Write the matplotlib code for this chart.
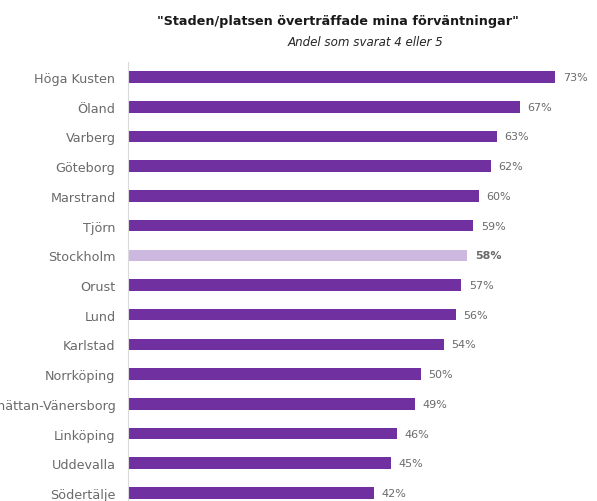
import matplotlib
matplotlib.use("Agg")
import matplotlib.pyplot as plt

categories = ["Höga Kusten", "Öland", "Varberg", "Göteborg", "Marstrand", "Tjörn",
              "Stockholm", "Orust", "Lund", "Karlstad", "Norrköping",
              "Trollhättan-Vänersborg", "Linköping", "Uddevalla", "Södertälje"]
values = [73, 67, 63, 62, 60, 59, 58, 57, 56, 54, 50, 49, 46, 45, 42]
highlight = "Stockholm"

title = "\"Staden/platsen överträffade mina förväntningar\""
subtitle = "Andel som svarat 4 eller 5"

plt.rcParams['font.family'] = ['DejaVu Sans']
W, H = 597, 502
fig = plt.figure(figsize=(W/100, H/100), dpi=100)
top_px, bot_px = 63.2, 508.8
ax = fig.add_axes([128/W, (H - bot_px)/H, (596 - 128)/W, (bot_px - top_px)/H])

purple = "#7030A0"
light = "#CDB8DF"
txt = "#6a6a6a"
colors = [light if c == highlight else purple for c in categories]
ypos = list(range(len(categories)))
ax.barh(ypos, values, height=0.39, color=colors)
ax.set_ylim(len(categories) - 0.5, -0.5)
ax.set_xlim(0, 80)
ax.set_yticks(ypos)
ax.set_yticklabels(categories, fontsize=9.2, color=txt)
ax.tick_params(axis='y', length=0, pad=9)
ax.set_xticks([])
for s in ["top", "right", "bottom"]:
    ax.spines[s].set_visible(False)
ax.spines["left"].set_color("#DADADA")
for y, v, c in zip(ypos, values, categories):
    ax.text(v + 1.3, y, f"{v}%", va="center", ha="left", fontsize=8, color=txt,
            fontweight="bold" if c == highlight else "normal")

fig.text(338/W, 1 - 22/H, title, ha="center", va="center", fontsize=9.2,
         fontweight="bold", color="#1a1a1a")
fig.text(365/W, 1 - 42/H, subtitle, ha="center", va="center", fontsize=8.6,
         style="italic", color="#262626")

fig.savefig("out.png", dpi=100)
